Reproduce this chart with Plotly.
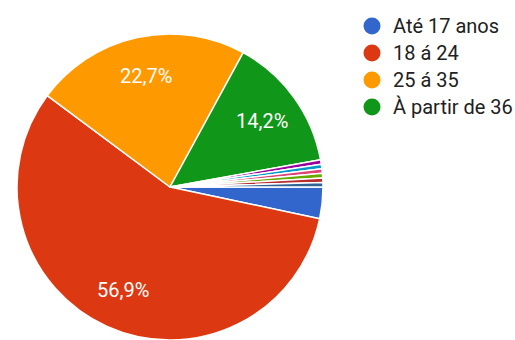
import math
import plotly.graph_objects as go

# Respostas por faixa etária (contagens)
labels = ["Até 17 anos", "18 á 24", "25 á 35", "À partir de 36",
          "Outra 1", "Outra 2", "Outra 3", "Outra 4", "Outra 5", "Outra 6"]
counts = [7, 120, 48, 30, 1, 1, 1, 1, 1, 1]
colors = ["#3366cc", "#dc3912", "#ff9900", "#109618", "#990099",
          "#0099c6", "#dd4477", "#66aa00", "#b82e2e", "#316395"]
legend_count = 4

W, H = 515, 340
cx, cy, r = 170, 187, 153  # pixel centre / radius of the pie
label_r = 0.74             # percentage labels, as a fraction of the radius
min_label_pct = 5

total = sum(counts)

fig = go.Figure()
fig.add_trace(go.Pie(
    labels=labels, values=counts, textinfo="none",
    sort=False, direction="clockwise", rotation=90,
    marker=dict(colors=colors, line=dict(color="white", width=1.5)),
    showlegend=False, hoverinfo="label+percent",
    domain=dict(x=[(cx - r) / W, (cx + r) / W],
                y=[(H - cy - r) / H, (H - cy + r) / H]),
))

annotations, shapes = [], []

# Percentage labels, placed along each slice's mid-angle (clockwise from 3 o'clock)
start = 0.0
for c in counts:
    span = 360 * c / total
    mid = math.radians(start + span / 2)
    start += span
    pct = 100 * c / total
    if pct < min_label_pct:
        continue
    px = cx + label_r * r * math.cos(mid)
    py = cy + label_r * r * math.sin(mid)
    annotations.append(dict(
        text=f"{pct:.1f}".replace(".", ",") + "%",
        xref="paper", yref="paper", x=px / W, y=(H - py) / H,
        xanchor="center", yanchor="middle", showarrow=False,
        font=dict(family="Roboto", size=20, color="white")))

# Legend: coloured dots with labels on the right
lx, ly0, dy, dot_r = 372, 26, 27, 8.5
for i in range(legend_count):
    y = ly0 + i * dy
    shapes.append(dict(type="circle", xref="paper", yref="paper",
                       x0=(lx - dot_r) / W, x1=(lx + dot_r) / W,
                       y0=(H - y - dot_r) / H, y1=(H - y + dot_r) / H,
                       fillcolor=colors[i], line=dict(width=0)))
    annotations.append(dict(text=labels[i], xref="paper", yref="paper",
                            x=391 / W, y=(H - y) / H, xanchor="left",
                            yanchor="middle", showarrow=False,
                            font=dict(family="Roboto", size=20, color="#212121")))

fig.update_layout(width=W, height=H, margin=dict(l=0, r=0, t=0, b=0),
                  paper_bgcolor="white", plot_bgcolor="white",
                  shapes=shapes, annotations=annotations)
fig.write_html("out.html")
